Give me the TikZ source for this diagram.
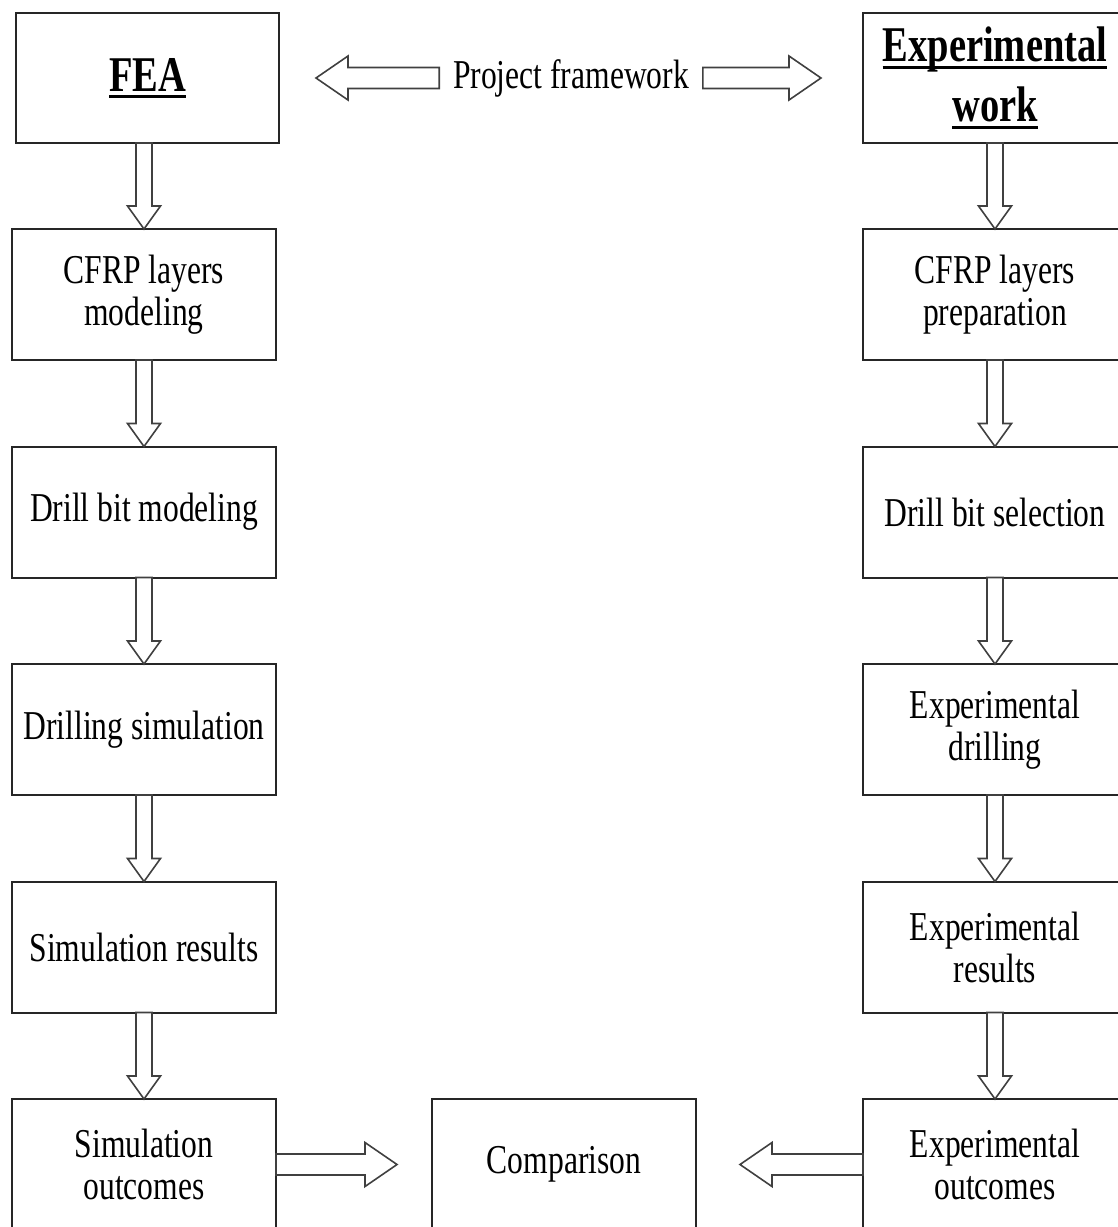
\documentclass[tikz,border=0pt]{standalone}
\usepackage{fontspec}
\setmainfont{Liberation Serif}[FakeStretch=0.77]
\usepackage{tikz}
\usetikzlibrary{positioning, calc}
\tikzset{
  stepbox/.style={
    draw=black!85, line width=1pt,
    rectangle, inner sep=0pt, outer sep=0pt,
    minimum width=132pt, minimum height=65.5pt,
    align=center, font=\fontsize{20.5}{21}\selectfont
  },
  titlebox/.style={
    stepbox, minimum height=65pt,
    font=\fontsize{25}{30}\selectfont\bfseries
  },
  hollow/.style={
    draw=black!75, line width=0.8pt, fill=white, line join=miter
  }
}
% underlined title word
\newcommand{\titleline}[1]{\leavevmode\setbox0=\hbox{#1}\rlap{\copy0}\rule[-3.5pt]{\wd0}{1.5pt}}
% outlined block arrow: start, tip, shaft half width, head half width, head length
\newcommand{\hollowarrow}[5]{%
  \coordinate (ha) at ($(#2)!#5!(#1)$);
  \draw[hollow] ($(#1)!#3!90:(#2)$) -- ($(ha)!#3!-90:(#1)$) -- ($(ha)!#4!-90:(#1)$)
    -- (#2) -- ($(ha)!#4!90:(#1)$) -- ($(ha)!#3!90:(#1)$) -- ($(#1)!#3!-90:(#2)$) -- cycle;}

\begin{document}
\begin{tikzpicture}[x=0.5pt, y=-0.5pt]
    \useasboundingbox (0,0) rectangle (1118,1227);
    \clip (0,0) rectangle (1118,1227);
    % FEA column
    \node[titlebox, minimum width=131.5pt] (fea) at (147.5,78) {\raisebox{3pt}{\titleline{FEA}}};
    \node[stepbox] (lay) at (144,294.5) {CFRP layers\\modeling};
    \node[stepbox, below=43.25pt of lay] (bitm) {Drill bit modeling};
    \node[stepbox, below=43.25pt of bitm] (sim) {Drilling simulation};
    \node[stepbox, below=43.25pt of sim] (simres) {Simulation results};
    \node[stepbox, below=43.25pt of simres] (simout) {Simulation\\outcomes};
    % experimental column
    \node[titlebox] (exp) at (995,78) {\titleline{Experimental}\\\titleline{work}};
    \node[stepbox, right=293.5pt of lay] (prep) {CFRP layers\\preparation};
    \node[stepbox, below=43.25pt of prep] (bits) {Drill bit selection};
    \node[stepbox, below=43.25pt of bits] (expdr) {Experimental\\drilling};
    \node[stepbox, below=43.25pt of expdr] (expres) {Experimental\\results};
    \node[stepbox, below=43.25pt of expres] (expout) {Experimental\\outcomes};
    \node[stepbox, right=78pt of simout] (cmp) {Comparison};
    \node[font=\fontsize{20.5}{21}\selectfont, inner xsep=6.75pt] (frame)
      at ($(fea.east)!0.5!(exp.west)$) {Project framework};
    % arrows
    \coordinate (feab) at (lay.north |- fea.south);
    \coordinate (expb) at (prep.north |- exp.south);
    \hollowarrow{feab}{lay.north}{4pt}{8.25pt}{11.5pt}
    \hollowarrow{expb}{prep.north}{4pt}{8.25pt}{11.5pt}
    \foreach \a/\b in {lay/bitm, bitm/sim, sim/simres, simres/simout,
                       prep/bits, bits/expdr, expdr/expres, expres/expout}
      {\hollowarrow{\a.south}{\b.north}{4pt}{8.25pt}{11.5pt}}
    \coordinate (lt) at ($(fea.east)+(37,0)$);
    \coordinate (rt) at ($(exp.west)+(-42,0)$);
    \coordinate (ct1) at ($(cmp.west)+(-35,0)$);
    \coordinate (ct2) at ($(cmp.east)+(44,0)$);
    \hollowarrow{frame.west}{lt}{5.25pt}{11pt}{16pt}
    \hollowarrow{frame.east}{rt}{5.25pt}{11pt}{16pt}
    \hollowarrow{simout.east}{ct1}{5.25pt}{11pt}{16pt}
    \hollowarrow{expout.west}{ct2}{5.25pt}{11pt}{16pt}
  \end{tikzpicture}
\end{document}
